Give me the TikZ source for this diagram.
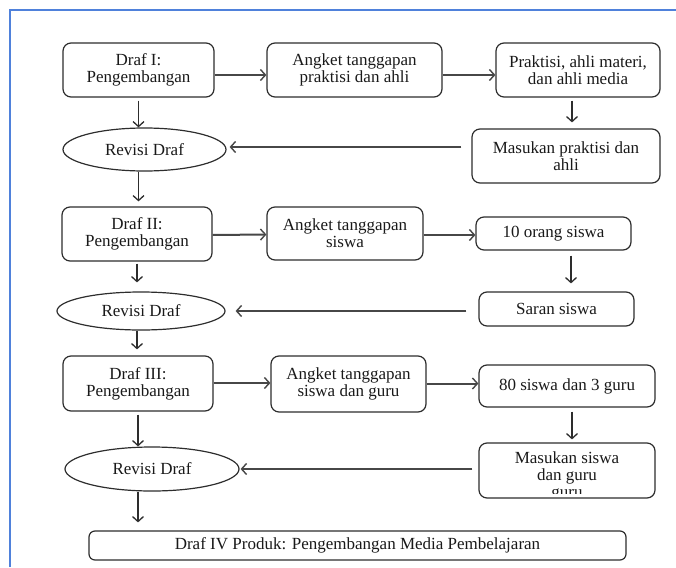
\documentclass[tikz,border=0pt]{standalone}
\usepackage{fontspec}
\setmainfont{Liberation Serif}
\usetikzlibrary{shapes.geometric,arrows.meta}
\definecolor{frameblue}{RGB}{79,129,219}
\definecolor{ink}{RGB}{45,45,45}
\begin{document}
\begin{tikzpicture}[x=1pt,y=-1pt,
  txt/.style={font=\fontsize{17}{17}\selectfont,text=black!90},
  box/.style={txt,draw=ink,line width=1.2pt,rounded corners=8pt,align=center,inner sep=0pt},
  oval/.style={txt,draw=ink,line width=1.2pt,ellipse,inner sep=0pt},
  harrow/.style={draw=black!72,line width=2pt,-{Straight Barb[length=5pt,width=11pt,line width=1.4pt]}},
  varrow/.style={draw=ink,line width=1.3pt,-{Straight Barb[length=5pt,width=11pt]}},
]
\useasboundingbox (0,0) rectangle (676,567);
% frame
\draw[frameblue,line width=2pt] (10,567) -- (10,10) -- (676,10);

% row 1
\node[box,minimum width=151,minimum height=54] (d1) at (138.5,70) {Draf I:\\Pengembangan};
\node[box,minimum width=175,minimum height=54] (a1) at (354.5,70) {Angket tanggapan\\praktisi dan ahli};
\node[box,minimum width=164,minimum height=54] (p1) at (578,70) {Praktisi, ahli materi,\\dan ahli media};
\node[oval,minimum width=163,minimum height=43] (e1) at (144.5,149.5) {Revisi Draf};
\node[box,minimum width=188,minimum height=54] (m1) at (566,156) {Masukan praktisi dan\\ahli};

% row 2
\node[box,minimum width=150,minimum height=54] (d2) at (137,234) {Draf II:\\Pengembangan};
\node[box,minimum width=156,minimum height=53] (a2) at (345,233.5) {Angket tanggapan\\siswa};
\node[box,minimum width=155,minimum height=33] (t2) at (553.5,233.5) {10 orang siswa};
\node[oval,minimum width=168,minimum height=38] (e2) at (141,311) {Revisi Draf};
\node[box,minimum width=155,minimum height=34] (s2) at (556.5,309) {Saran siswa};

% row 3
\node[box,minimum width=150,minimum height=55] (d3) at (138,383.5) {Draf III:\\Pengembangan};
\node[box,minimum width=155,minimum height=56] (a3) at (348.5,384) {Angket tanggapan\\siswa dan guru};
\node[box,minimum width=176,minimum height=42] (b3) at (567,386) {80 siswa dan 3 guru};
\node[oval,minimum width=174,minimum height=44] (e3) at (152,469) {Revisi Draf};
\node[box,minimum width=176,minimum height=55] (m3) at (567,470.5) {};
\begin{scope}
  \clip (479,443) rectangle (655,493);
  \node[txt,align=center,inner sep=0pt,anchor=north] (m3t) at (567,451) {Masukan siswa\\dan guru\\guru};
\end{scope}

% final
\node[box,rounded corners=6pt,minimum width=537,minimum height=29] (f) at (357.5,545.5) {Draf IV Produk: Pengembangan Media Pembelajaran};

% horizontal arrows
\draw[harrow] ([yshift=-5pt]d1.east) -- ([yshift=-5pt]a1.west);
\draw[harrow] ([yshift=-5pt]a1.east) -- ([yshift=-5pt]p1.west);
\draw[harrow] ([yshift=-1pt]d2.east) -- ([yshift=-1pt]a2.west);
\draw[harrow] ([yshift=-1.5pt]a2.east) -- ([yshift=-1.5pt]t2.west);
\draw[harrow] ([yshift=0.5pt]d3.east) -- ([yshift=0.5pt]d3.east -| a3.west);
\draw[harrow] ([yshift=0.5pt]a3.east) -- ([yshift=0.5pt]a3.east -| b3.west);

% feedback arrows
\draw[harrow] ([xshift=-10pt,yshift=2.5pt]m1.west |- e1.east) -- ([xshift=3pt,yshift=2.5pt]e1.east);
\draw[harrow] ([xshift=-12pt]s2.west |- e2.east) -- ([xshift=10pt]e2.east);
\draw[harrow] ([xshift=-6pt]m3.west |- e3.east) -- ([xshift=1pt]e3.east);

% vertical arrows
\draw[varrow] ([yshift=-3pt]d1.south) -- (d1.south |- e1.north);
\draw[varrow] ([xshift=-6pt,yshift=-3pt]p1.south) -- ([xshift=-6pt,yshift=6pt]p1.south |- m1.north);
\draw[varrow,shorten >=5pt] (d1.south |- e1.south) -- (d1.south |- d2.north);
\draw[varrow,shorten <=2pt,shorten >=9pt] (d2.south) -- (d2.south |- e2.north);
\draw[varrow,shorten <=5pt,shorten >=8pt] ([xshift=17.5pt]t2.south) -- ([xshift=17.5pt]t2.south |- s2.north);
\draw[varrow,shorten >=6pt] (d2.south |- e2.south) -- (d2.south |- d3.north);
\draw[varrow,shorten <=3pt] (d3.south) -- (d3.south |- e3.north);
\draw[varrow,shorten <=4pt,shorten >=3pt] ([xshift=5pt]b3.south) -- ([xshift=5pt]b3.south |- m3.north);
\draw[varrow,shorten >=8pt] (d3.south |- e3.south) -- (d3.south |- f.north);
\end{tikzpicture}
\end{document}
